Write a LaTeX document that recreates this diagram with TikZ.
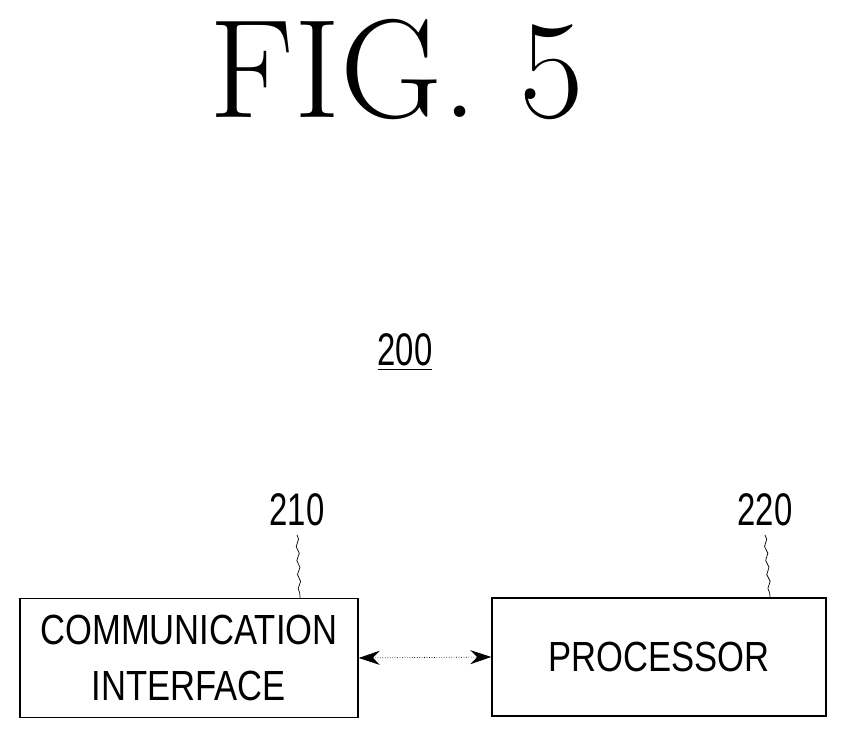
\documentclass[tikz,border=0pt]{standalone}
\usepackage{fontspec}
\setsansfont{Liberation Sans}
\usetikzlibrary{positioning,arrows.meta,decorations.pathmorphing}
\tikzset{
  blk/.style={draw,thick,minimum width=6.76cm,minimum height=2.38cm,align=center,
    font=\sffamily\fontsize{24}{30}\selectfont},
  lbl/.style={font=\sffamily\fontsize{26}{30}\selectfont},
  lead/.style={thin,decorate,decoration={snake,amplitude=0.8pt,segment length=8pt}}
}
\newcommand{\nar}[1]{\scalebox{0.72}[1]{#1}}
\newcommand{\wid}[1]{\scalebox{0.82}[1]{#1}}
\begin{document}
\begin{tikzpicture}[x=0.02cm,y=0.02cm]
\useasboundingbox (0,0) rectangle (849,742);
\node[font=\fontsize{80}{90}\selectfont] (title) at (397,672) {FIG.\ 5};
\node[lbl] (sys) at (405,390) {\nar{\underline{200}}};
\node[blk] (comm) at (189,84) {\wid{COMMUNICATION}\\[2pt]\wid{INTERFACE}};
\node[blk,minimum width=6.68cm,minimum height=2.36cm] (proc) at (659,85) {\wid{PROCESSOR}};
\node[lbl] (n210) at (297,232) {\nar{210}};
\node[lbl] (n220) at (765,232) {\nar{220}};
\coordinate (c210) at (297,207);
\coordinate (c220) at (765,207);
\draw[lead] (c210) -- (comm.north -| 300,0);
\draw[lead] (c220) -- (proc.north -| 770,0);
\draw[thin,densely dotted,{Stealth[length=12pt,width=8pt]}-{Stealth[length=12pt,width=8pt]}] (comm.east) -- (proc.west);
\end{tikzpicture}
\end{document}
